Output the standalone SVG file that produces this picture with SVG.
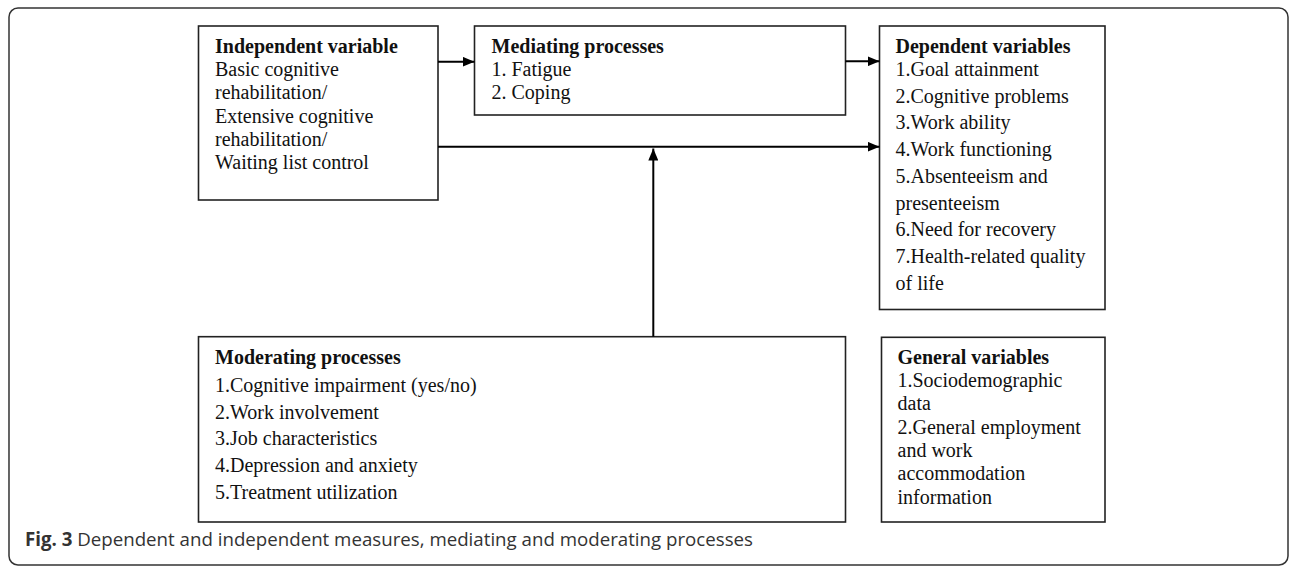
<svg xmlns="http://www.w3.org/2000/svg" width="1290" height="567" viewBox="0 0 1290 567">
  <style>
    .box { fill: #ffffff; stroke: #222222; stroke-width: 1.6; }
    .t { font-family: "Liberation Serif", "Times New Roman", serif; font-size: 20px; fill: #111111; }
    .b { font-weight: bold; }
    .conn { stroke: #000000; stroke-width: 2; fill: none; }
    .cap { font-family: "Open Sans", "Liberation Sans", sans-serif; font-size: 18.7px; fill: #333333; }
  </style>
  <defs>
    <marker id="arrow" markerUnits="userSpaceOnUse" markerWidth="12" markerHeight="10" refX="12" refY="5" orient="auto">
      <path d="M0,0 L12,5 L0,10 z" fill="#000000"/>
    </marker>
  </defs>
  <rect width="1290" height="567" fill="#ffffff"/>
  <rect x="9" y="8" width="1279" height="557" rx="9" ry="9" fill="none" stroke="#333333" stroke-width="1.5"/>

  <g id="independent">
    <rect class="box" x="198.5" y="26" width="239.5" height="174"/>
    <text class="t b" x="215" y="53">Independent variable</text>
    <text class="t" x="215" y="76">Basic cognitive</text>
    <text class="t" x="215" y="99.3">rehabilitation/</text>
    <text class="t" x="215" y="122.5">Extensive cognitive</text>
    <text class="t" x="215" y="145.8">rehabilitation/</text>
    <text class="t" x="215" y="169">Waiting list control</text>
  </g>

  <g id="mediating">
    <rect class="box" x="474.5" y="26" width="371" height="89"/>
    <text class="t b" x="491.5" y="53">Mediating processes</text>
    <text class="t" x="491.5" y="75.5">1. Fatigue</text>
    <text class="t" x="491.5" y="99">2. Coping</text>
  </g>

  <g id="dependent">
    <rect class="box" x="879.5" y="26" width="225.5" height="283.5"/>
    <text class="t b" x="895.5" y="53">Dependent variables</text>
    <text class="t" x="895.5" y="76">1.Goal attainment</text>
    <text class="t" x="895.5" y="102.7">2.Cognitive problems</text>
    <text class="t" x="895.5" y="129.4">3.Work ability</text>
    <text class="t" x="895.5" y="156.1">4.Work functioning</text>
    <text class="t" x="895.5" y="182.8">5.Absenteeism and</text>
    <text class="t" x="895.5" y="209.5">presenteeism</text>
    <text class="t" x="895.5" y="236.2">6.Need for recovery</text>
    <text class="t" x="895.5" y="262.9">7.Health-related quality</text>
    <text class="t" x="895.5" y="289.6">of life</text>
  </g>

  <g id="moderating">
    <rect class="box" x="198.5" y="336.7" width="647" height="185.3"/>
    <text class="t b" x="215" y="364">Moderating processes</text>
    <text class="t" x="215" y="392">1.Cognitive impairment (yes/no)</text>
    <text class="t" x="215" y="418.7">2.Work involvement</text>
    <text class="t" x="215" y="445.4">3.Job characteristics</text>
    <text class="t" x="215" y="472.1">4.Depression and anxiety</text>
    <text class="t" x="215" y="498.8">5.Treatment utilization</text>
  </g>

  <g id="general">
    <rect class="box" x="881.5" y="337.3" width="223.5" height="184.7"/>
    <text class="t b" x="897.5" y="364">General variables</text>
    <text class="t" x="897.5" y="387">1.Sociodemographic</text>
    <text class="t" x="897.5" y="410.3">data</text>
    <text class="t" x="897.5" y="433.6">2.General employment</text>
    <text class="t" x="897.5" y="456.9">and work</text>
    <text class="t" x="897.5" y="480.2">accommodation</text>
    <text class="t" x="897.5" y="503.5">information</text>
  </g>

  <g id="connectors">
    <line class="conn" x1="438" y1="61.7" x2="474.5" y2="61.7" marker-end="url(#arrow)"/>
    <line class="conn" x1="845.5" y1="61.3" x2="879.5" y2="61.3" marker-end="url(#arrow)"/>
    <line class="conn" x1="438" y1="146.7" x2="879.5" y2="146.7" marker-end="url(#arrow)"/>
    <line class="conn" x1="653.3" y1="336.7" x2="653.3" y2="148.5" marker-end="url(#arrow)"/>
  </g>

  <g id="caption">
    <text class="cap" x="25" y="545.5"><tspan font-weight="bold">Fig. 3</tspan> Dependent and independent measures, mediating and moderating processes</text>
  </g>
</svg>
